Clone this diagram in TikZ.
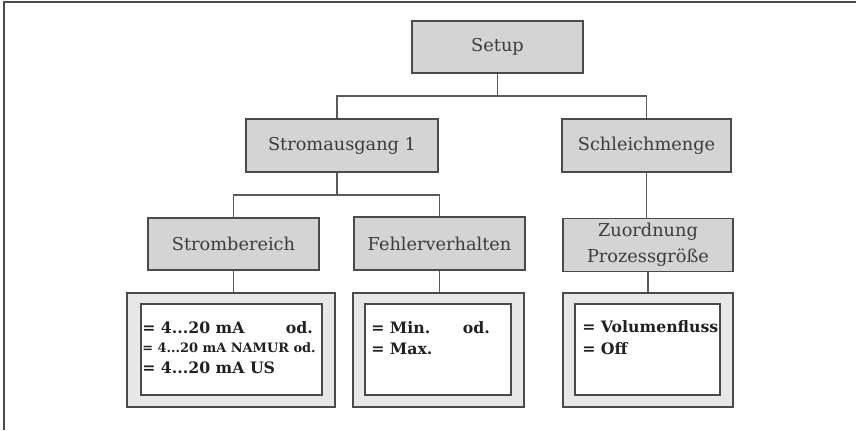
\documentclass[tikz,border=0pt]{standalone}
\usepackage{fontspec}
\setmainfont{DejaVu Serif}
\usetikzlibrary{calc}
\definecolor{boxgray}{HTML}{D4D4D5}
\definecolor{outgray}{HTML}{E6E7E8}
\definecolor{edge}{HTML}{4A4A4A}
\definecolor{connc}{HTML}{5A5A5A}
\definecolor{txt}{HTML}{3C3C3C}
\definecolor{opttxt}{HTML}{231F20}
\begin{document}
\begin{tikzpicture}[x=0.75pt,y=-0.75pt,
  lbl/.style={draw=edge, line width=0.9pt, fill=boxgray, inner sep=0pt, text=txt,
    font=\fontsize{13.3}{19.5}\selectfont, align=center},
  outer/.style={draw=edge, line width=0.9pt, fill=outgray, inner sep=0pt},
  inner/.style={draw=edge, line width=0.9pt, fill=white, inner sep=0pt},
  conn/.style={draw=connc, line width=0.8pt},
  opt/.style={inner sep=0pt, anchor=base west, text=opttxt,
    font=\bfseries\fontsize{11.8}{15}\selectfont},
  optr/.style={opt, anchor=base east},
  optsmall/.style={opt, font=\bfseries\fontsize{9.7}{12}\selectfont},
  frame/.style={draw=edge, line width=1.5pt}
]
\useasboundingbox (0,0) rectangle (856,430);
\draw[frame] (3.5,430) -- (3.5,1.5) -- (856,1.5);

% label boxes
\node[lbl, minimum width=128.25pt, minimum height=39pt] (setup) at (497.5,47) {Setup};
\node[lbl, minimum width=144pt, minimum height=39.75pt] (sa) at (342,145.5) {Stromausgang 1};
\node[lbl, minimum width=126.75pt, minimum height=39.75pt] (sm) at (646.5,145.5) {Schleichmenge};
\node[lbl, minimum width=128.25pt, minimum height=39pt] (sb) at (233.5,244) {Strombereich};
\node[lbl, minimum width=128.25pt, minimum height=39.75pt] (fv) at (439.5,243.5) {Fehlerverhalten};
\node[lbl, minimum width=127.5pt, minimum height=39.75pt] (zp) at (648,245) {Zuordnung\\Prozessgröße};

% option boxes
\node[outer, minimum width=156pt, minimum height=85.5pt] (ob1) at (231,350) {};
\node[outer, minimum width=128.25pt, minimum height=85.5pt] (ob2) at (438.5,350) {};
\node[outer, minimum width=127.5pt, minimum height=85.5pt] (ob3) at (648,350) {};
\node[inner, minimum width=135.75pt, minimum height=68.25pt] (ib1) at (231.5,349.5) {};
\node[inner, minimum width=109.5pt, minimum height=68.25pt] (ib2) at (438,349.5) {};
\node[inner, minimum width=108.75pt, minimum height=68.25pt] (ib3) at (647.5,349.5) {};

% option texts
\node[opt] (t11) at (142,333) {= 4...20 mA};
\node[optr] (t11r) at (313,333) {od.};
\node[optsmall] (t12) at (142,352) {= 4...20 mA NAMUR od.};
\node[opt] (t13) at (142,373) {= 4...20 mA US};
\node[opt] (t21) at (371,333) {= Min.};
\node[optr] (t21r) at (490,333) {od.};
\node[opt] (t22) at (371,354) {= Max.};
\node[opt] (t31) at (582,332) {= Volumenfluss};
\node[opt] (t32) at (582,354) {= Off};

% connectors
\coordinate (j1) at (497,96);
\coordinate (j2) at (337,195);
\draw[conn] (setup.south) -- (setup.south |- j1);
\draw[conn] ($(sa.north)+(-5,0)$) |- (sm.north |- j1) -- (sm.north);
\draw[conn] ($(sa.south)+(-5,0)$) -- (j2);
\draw[conn] (sb.north) |- (j2) -| (fv.north);
\draw[conn] (sm.south) -- (sm.south |- zp.north);
\draw[conn] (sb.south) -- (sb.south |- ob1.north);
\draw[conn] (fv.south) -- (fv.south |- ob2.north);
\draw[conn] (zp.south) -- (zp.south |- ob3.north);
\end{tikzpicture}
\end{document}
